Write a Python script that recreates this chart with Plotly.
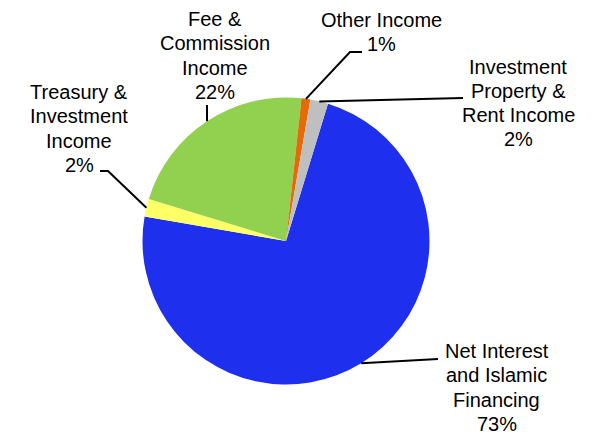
import math
import plotly.graph_objects as go

# Income mix (share of total operating income, %)
categories = [
    "Net Interest<br>and Islamic<br>Financing",
    "Treasury &<br>Investment<br>Income",
    "Fee &<br>Commission<br>Income",
    "Other Income",
    "Investment<br>Property &<br>Rent Income",
]
shares = [73, 2, 22, 1, 2]
colors = ["#1E2FEE", "#FFFF66", "#92D050", "#E36C09", "#BFBFBF"]

W, H = 594, 436
cx, cy, r = 286, 241, 143.5          # pie centre and radius in pixels
rotation = 17                        # start angle of first slice, clockwise from 12 o'clock
font_size, line_gap = 20, 24.3

# label anchor: centre x and first-line centre y (px); leader-line points near each label (px)
label_pos = [(496.5, 351), (79, 92), (215, 19), (381, 20), (518, 66.5)]
leader_pts = [
    [(438, 359)],
    [(100, 171), (108, 171)],
    [(None, 105)],
    [(362, 52), (350, 52)],
    [(463, 98)],
]

def px_to_paper(x, y):
    return x / W, 1 - y / H

fig = go.Figure(
    go.Pie(
        labels=categories,
        values=shares,
        sort=False,
        direction="clockwise",
        rotation=rotation,
        marker=dict(colors=colors, line=dict(width=0)),
        textinfo="none",
        hoverinfo="label+percent",
        showlegend=False,
        domain=dict(
            x=[(cx - r) / W, (cx + r) / W],
            y=[1 - (cy + r) / H, 1 - (cy - r) / H],
        ),
    )
)

total = sum(shares)
shapes, annotations = [], []
start = rotation
for name, v, (lx, ly), pts in zip(categories, shares, label_pos, leader_pts):
    span = 360 * v / total
    mid = math.radians(start + span / 2)
    start += span
    ex = cx + r * math.sin(mid)
    ey = cy - r * math.cos(mid)
    path_pts = [((ex if px is None else px), py) for px, py in pts] + [(ex, ey)]
    d = ""
    for i, (px, py) in enumerate(path_pts):
        X, Y = px_to_paper(px, py)
        d += ("M" if i == 0 else " L") + f"{X:.5f},{Y:.5f}"
    shapes.append(dict(type="path", path=d, xref="paper", yref="paper",
                       line=dict(color="black", width=2)))
    lines = name.split("<br>") + [f"{v / total * 100:.0f}%"]
    for i, txt in enumerate(lines):
        ax, ay = px_to_paper(lx, ly + i * line_gap)
        annotations.append(dict(
            text=txt, x=ax, y=ay, xref="paper", yref="paper",
            xanchor="center", yanchor="middle", showarrow=False, borderpad=0,
            font=dict(family="Liberation Sans, Arial, sans-serif",
                      size=font_size, color="black"),
        ))

fig.update_layout(
    width=W, height=H,
    margin=dict(l=0, r=0, t=0, b=0),
    paper_bgcolor="white",
    plot_bgcolor="white",
    shapes=shapes,
    annotations=annotations,
)

fig.write_html("out.html")
